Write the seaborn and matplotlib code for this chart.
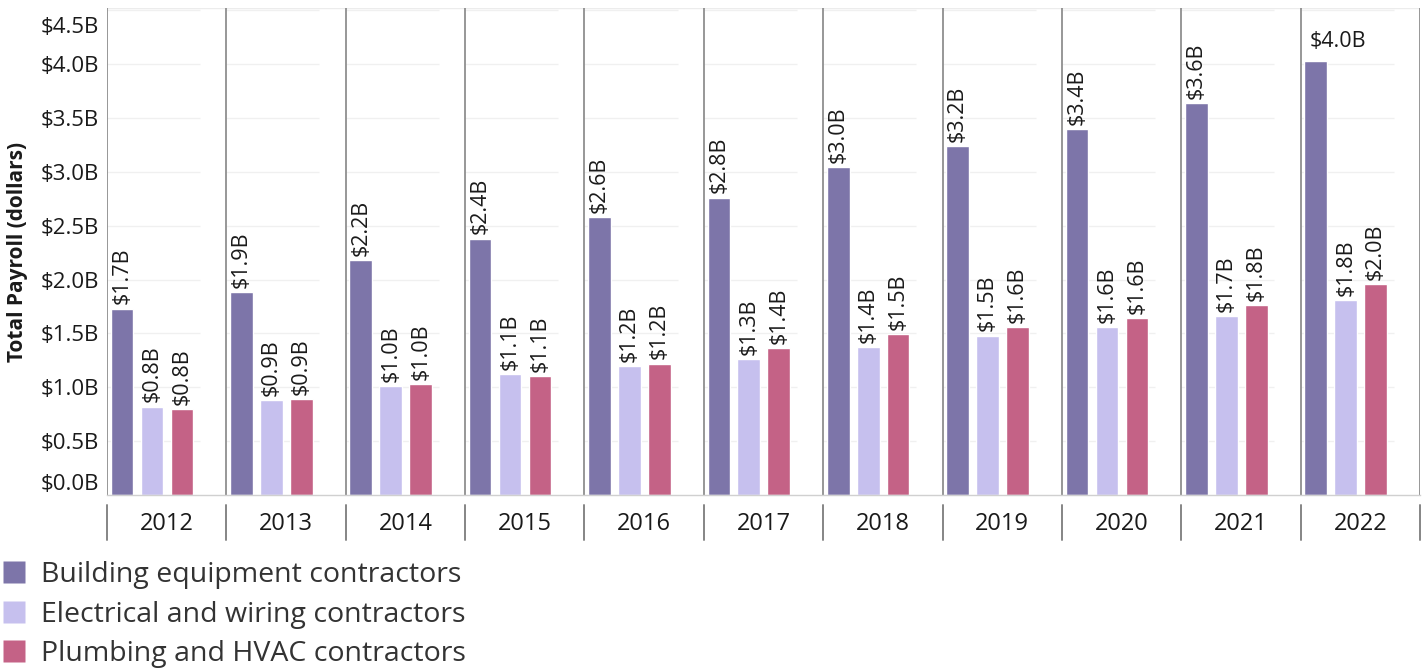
import numpy as np
import pandas as pd
import matplotlib
matplotlib.use("Agg")
import matplotlib.pyplot as plt
import matplotlib.transforms as mtransforms
from matplotlib.lines import Line2D
import seaborn as sns

# Total payroll by industry group, billions of dollars
years = ["2012", "2013", "2014", "2015", "2016", "2017",
         "2018", "2019", "2020", "2021", "2022"]
series = ["Building equipment contractors",
          "Electrical and wiring contractors",
          "Plumbing and HVAC contractors"]
building = [1.73, 1.88, 2.18, 2.38, 2.58, 2.76, 3.04, 3.24, 3.40, 3.64, 4.03]
electrical = [0.82, 0.88, 1.01, 1.12, 1.20, 1.26, 1.37, 1.48, 1.56, 1.66, 1.81]
plumbing = [0.80, 0.89, 1.03, 1.10, 1.22, 1.36, 1.49, 1.56, 1.64, 1.76, 1.96]
colors = ["#7d75a9", "#c6c0ee", "#c46286"]
y_ticks = [0.0, 0.5, 1.0, 1.5, 2.0, 2.5, 3.0, 3.5, 4.0, 4.5]

df = pd.DataFrame({
    "year": years * 3,
    "series": [s for s in series for _ in years],
    "payroll": building + electrical + plumbing,
})

sns.set_theme(style="white")
plt.rcParams["font.family"] = ["Open Sans", "DejaVu Sans"]

W, H = 1426, 668
fig = plt.figure(figsize=(W / 100, H / 100), dpi=100)
ax = fig.add_axes([107 / W, 1 - 495 / H, 1313 / W, 487 / H])

sns.barplot(data=df, x="year", y="payroll", hue="series", order=years,
            hue_order=series, palette=colors, saturation=1, width=0.753,
            gap=0.243, dodge=True, legend=False, ax=ax)

# each year panel: bars sit at the left, spare room on the right
left_off = 0.377
ax.set_xlim(-left_off, len(years) - left_off)
ax.set_ylim(0, 4.52)

# faint gridlines inside each panel
for i in range(len(years)):
    x0 = i - left_off
    ax.hlines(y_ticks[1:], x0, x0 + 0.78, color="#f0f0f0", lw=1, zorder=0)

# panel separators
for i in range(len(years) + 1):
    ax.axvline(i - left_off, color="#858585", lw=1.2, zorder=1)

trans = mtransforms.blended_transform_factory(ax.transData, ax.transAxes)
for i in range(len(years) + 1):
    ax.plot([i - left_off, i - left_off], [-10 / 487, -45 / 487],
            color="#858585", lw=1.4, transform=trans, clip_on=False)
for i, yr in enumerate(years):
    ax.text(i - left_off + 0.5, -29 / 487, yr, transform=trans,
            ha="center", va="center", fontsize=17, color="#1a1a1a")

for side in ["top", "right", "left"]:
    ax.spines[side].set_visible(False)
ax.spines["bottom"].set_color("#d0d0d0")
ax.spines["bottom"].set_linewidth(1)
ax.axhline(4.52, color="#ececec", lw=1, zorder=0)

ax.set_xticks([])
ax.set_xlabel("")
ax.set_yticks(y_ticks)
ax.set_yticklabels([f"${v:.1f}B" for v in y_ticks], fontsize=16,
                   color="#1a1a1a")
ax.tick_params(axis="y", length=0, pad=6)
tl = ax.get_yticklabels()
tl[0].set_va("bottom")
tl[-1].set_va("top")
tl[-1].set_transform(tl[-1].get_transform() +
                     mtransforms.ScaledTranslation(0, -5 / 72,
                                                   fig.dpi_scale_trans))

ax.set_ylabel("Total Payroll (dollars)", fontsize=15, fontweight="bold",
              color="#1a1a1a")
ax.yaxis.set_label_coords(-79 / 1313, 0.5)

# value labels
for k, cont in enumerate(ax.containers):
    vals = [building, electrical, plumbing][k]
    anns = ax.bar_label(cont, labels=[f"${v:.1f}B" for v in vals],
                        rotation=90, padding=3, fontsize=15.5,
                        color="#1a1a1a")
    if k == 0:
        last = anns[-1]
        last.set_rotation(0)
        bar = cont.patches[-1]
        last.xy = (bar.get_x(), bar.get_height())
        last.set_ha("left")
        last.set_position((4, 6))

handles = [Line2D([0], [0], marker="s", color="none", markerfacecolor=c,
                  markeredgecolor="none", markersize=16) for c in colors]
fig.legend(handles, series, loc="upper left",
           bbox_to_anchor=(0.0, 1 - 561 / H), frameon=False,
           fontsize=20.5, handlelength=1.0, handletextpad=0.45,
           labelspacing=0.41, borderaxespad=0, borderpad=0,
           labelcolor="#333333")

fig.savefig("out.png", dpi=100)
